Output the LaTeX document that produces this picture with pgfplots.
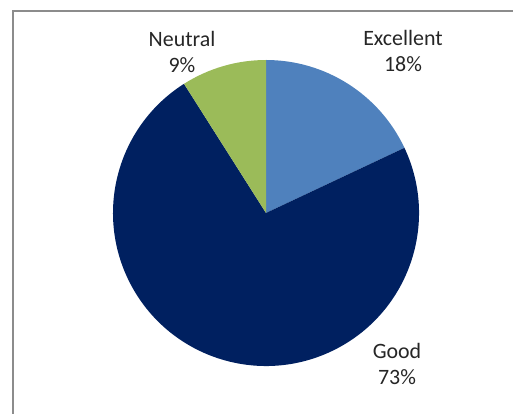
\documentclass[border=0pt]{standalone}
\usepackage{pgfplots}
\pgfplotsset{compat=1.18}
\usepackage{pgfplotstable}
\usepackage{fontspec}
\setmainfont{Carlito}
\definecolor{cExc}{HTML}{4F81BD}
\definecolor{cGood}{HTML}{002060}
\definecolor{cNeu}{HTML}{9BBB59}
\definecolor{cBorder}{HTML}{8C8C8C}
\pgfplotstableread{
label     value
Excellent 18
Good      73
Neutral   9
}\piedata
\begin{document}
\begin{tikzpicture}
\begin{axis}[
  scale only axis, width=513bp, height=414bp,
  xmin=0, xmax=513, ymin=0, ymax=414,
  hide axis, clip=false,
]
\draw[cBorder, line width=1.5bp] (axis cs:13,0) -- (axis cs:13,403) -- (axis cs:513,403);
\pgfplotstablegetelem{0}{value}\of{\piedata}\let\va\pgfplotsretval
\pgfplotstablegetelem{1}{value}\of{\piedata}\let\vb\pgfplotsretval
\pgfplotstablegetelem{2}{value}\of{\piedata}\let\vc\pgfplotsretval
\pgfmathsetmacro{\aA}{90}
\pgfmathsetmacro{\aB}{90-3.6*\va}
\pgfmathsetmacro{\aC}{90-3.6*(\va+\vb)}
\pgfmathsetmacro{\aD}{90-3.6*(\va+\vb+\vc)}
\fill[cExc]  (axis cs:266,201) -- ++(\aA:153bp) arc[start angle=\aA, end angle=\aB, radius=153bp] -- cycle;
\fill[cGood] (axis cs:266,201) -- ++(\aB:153bp) arc[start angle=\aB, end angle=\aC, radius=153bp] -- cycle;
\fill[cNeu]  (axis cs:266,201) -- ++(\aC:153bp) arc[start angle=\aC, end angle=\aD, radius=153bp] -- cycle;
\node[align=center, font=\fontsize{22}{27}\selectfont, text=black!85] at (axis cs:403,363) {Excellent\\18\%};
\node[align=center, font=\fontsize{22}{27}\selectfont, text=black!85] at (axis cs:397,50) {Good\\73\%};
\node[align=center, font=\fontsize{22}{27}\selectfont, text=black!85] at (axis cs:182,362) {Neutral\\9\%};
\end{axis}
\pgfresetboundingbox
\useasboundingbox (0,0) rectangle (513bp,414bp);
\end{tikzpicture}
\end{document}
